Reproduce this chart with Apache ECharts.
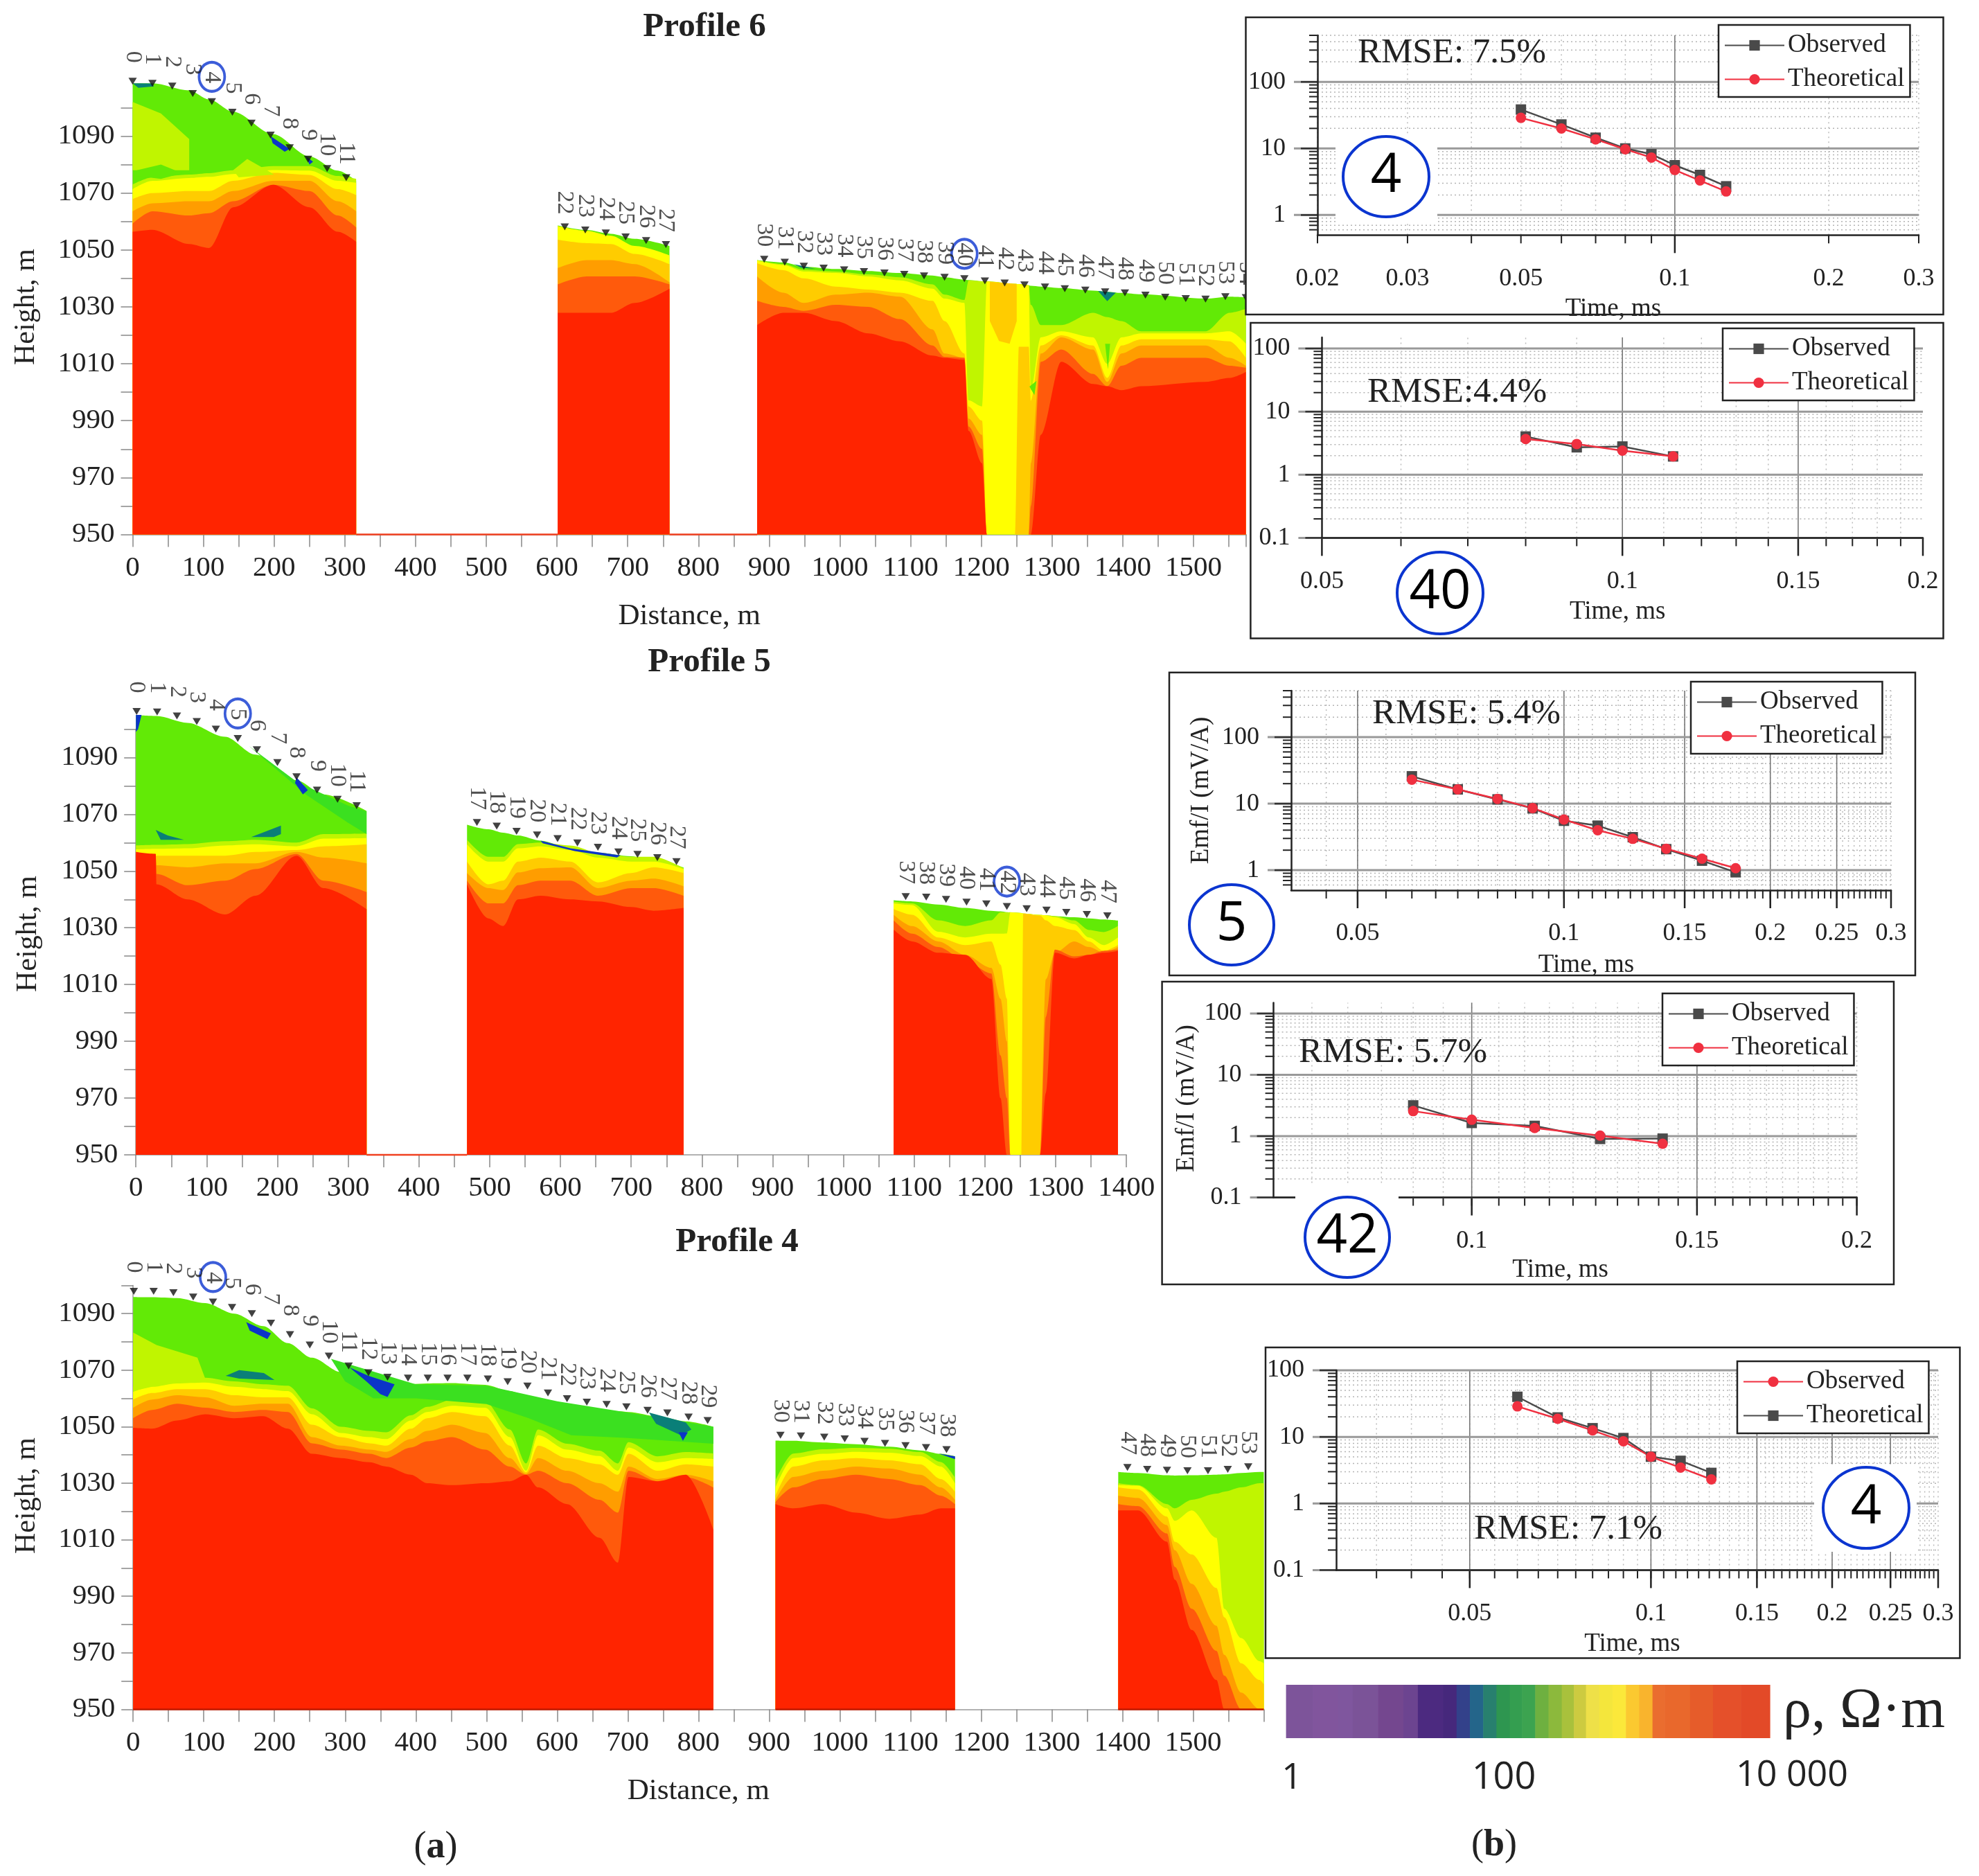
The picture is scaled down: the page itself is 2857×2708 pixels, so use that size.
<!DOCTYPE html>
<html><head><meta charset="utf-8"><style>html,body{margin:0;padding:0;background:#fff}#c{width:2857px;height:2708px}</style>
<script src="https://cdn.jsdelivr.net/npm/echarts@6/dist/echarts.min.js"></script></head><body><div id="c"></div>
<script>
// ---------- Station data ----------
const p6StNo=[0,1,2,3,4,5,6,7,8,9,10,11,22,23,24,25,26,27,30,31,32,33,34,35,36,37,38,39,40,41,42,43,44,45,46,47,48,49,50,51,52,53,54];
const p6StX=[0,28,56,85,112,141,168,195,222,248,275,302,611,640,669,697,726,754,893,922,949,977,1006,1034,1063,1091,1119,1148,1176,1205,1233,1261,1290,1318,1347,1375,1403,1432,1460,1489,1517,1545,1574];
const p6StH=[1109.3,1108.6,1107.6,1105,1102.1,1098.4,1094.6,1090.4,1085.9,1081.9,1078.6,1075.4,1058.1,1057,1056,1054.6,1053.3,1051.9,1046.7,1045.7,1044.3,1043.6,1043,1042.4,1041.9,1041.4,1040.9,1040.4,1039.9,1039.1,1038.4,1037.7,1037,1036.4,1035.9,1035.3,1034.9,1034.1,1033.4,1032.9,1032.7,1033.6,1033.3];
const p5StNo=[0,1,2,3,4,5,6,7,8,9,10,11,17,18,19,20,21,22,23,24,25,26,27,37,38,39,40,41,42,43,44,45,46,47];
const p5StX=[1,30,58,86,113,144,171,200,227,256,285,312,482,510,538,567,596,624,653,682,709,737,764,1088,1117,1145,1174,1202,1231,1259,1287,1315,1344,1373];
const p5StH=[1106.2,1106,1104.6,1102.7,1100,1096.7,1092.7,1088.2,1083.2,1078.5,1075.3,1073,1067.1,1065.8,1064,1062.7,1061.4,1059.9,1058.4,1056.7,1055.9,1054.7,1053.3,1041,1040.8,1040,1039,1038.4,1037.5,1036.7,1036.2,1035.4,1034.7,1034.2];
const p4StNo=[0,1,2,3,4,5,6,7,8,9,10,11,12,13,14,15,16,17,18,19,20,21,22,23,24,25,26,27,28,29,30,31,32,33,34,35,36,37,38,47,48,49,50,51,52,53];
const p4StX=[1,29,57,85,113,140,168,195,222,250,277,305,333,360,389,417,445,473,502,530,558,587,614,642,670,698,728,756,786,813,916,945,978,1007,1035,1064,1093,1122,1151,1407,1435,1463,1492,1521,1549,1578];
const p4StH=[1097.9,1097.9,1097.4,1095.9,1094.1,1092.2,1090,1086.6,1082.6,1078.9,1075,1071.5,1069.1,1067.5,1067.2,1067.2,1067.2,1067.2,1066.9,1065.9,1064.4,1061.9,1059.9,1058.7,1057.9,1057,1055.8,1054.9,1053.4,1052.2,1047,1046.7,1046.3,1045.7,1044.8,1044.1,1043.3,1042.6,1041.9,1035.6,1034.9,1034.6,1034.4,1034.4,1034.9,1035.8];
const p6Marked=[4,40], p5Marked=[5,42], p4Marked=[4];
// ---------- Profile 6 sections ----------
const p6aX=[0,28,80,108,142,199,250,290,316];
const p6aGreen=[1108.6,1108.6,1106.1,1102.9,1098.6,1090.7,1082.9,1077.9,1074.3];
const p6aLime=[1073,1075.5,1076.5,1077,1078,1079.5,1079.5,1076,1075];
const p6aYellow=[1071.4,1074.3,1075.3,1075.7,1076.7,1078.1,1077.9,1074.3,1073.6];
const p6aAmber=[1067.9,1070,1070.7,1070.7,1074.3,1077.1,1076.4,1071.4,1069.3];
const p6aOrange=[1063.6,1066.4,1067.1,1067.1,1070.7,1074.3,1074.3,1067.1,1063.6];
const p6aDark=[1059.3,1063.6,1062.1,1062.9,1067.1,1072.9,1070.7,1062.1,1057.9];
const p6aRed=[1056.4,1057.1,1052.1,1050.7,1065,1072.9,1065,1056.4,1052.9];
const p6bX=[601,642,676,710,759];
const p6bGreen=[1058.6,1057,1055.7,1053.9,1051.4];
const p6bYellow=[1058.4,1056.7,1055,1051.4,1048.1];
const p6bAmber=[1053.6,1052.4,1052.1,1048.6,1045];
const p6bOrange=[1043.6,1046.4,1046.4,1045,1038.6];
const p6bDark=[1037.9,1040.7,1040.7,1040.7,1037.9];
const p6bRed=[1027.9,1027.9,1027.9,1031.4,1036.4];
const p6cX=[883,920,949,994,1040,1085,1131,1148,1176,1182,1201,1208,1248,1253,1267,1270,1284,1313,1358,1378,1398,1426,1517,1551,1574];
const p6cGreen=[1046.4,1045.6,1044.1,1043.3,1042.6,1041.9,1041,1040.4,1039.6,1039.4,1039,1038.9,1038.1,1038,1037.6,1037.4,1037.1,1036.6,1035.7,1035.3,1034.9,1034.4,1032.9,1033.6,1033.4];
const p6cLime=[1046.4,1045,1043,1042.4,1041.4,1040.4,1037.9,1034.3,1032.4,1039.3,1039,1039,1038.1,1038,1037.6,1030.7,1023.6,1023.6,1027.9,1026.4,1025,1021.4,1021.4,1027.9,1029.3];
const p6cYellow=[1046.3,1044.7,1042.4,1041.9,1040.7,1039.3,1036.4,1032.9,1031.4,997.1,995,1038.9,1038.1,1038,1037.6,1000.7,1019.3,1021.4,1019.3,1010,1019.3,1020.7,1020.7,1021.4,1017.1];
const p6cAmber=[1045.3,1042.9,1040,1037.1,1036.1,1035,1032.1,1025,1013.6,995,990,950,950,1016,1016,997,1016.4,1020,1016.4,1005,1016.4,1018.6,1018.6,1017.9,1012.1];
const p6cOrange=[1040.7,1035,1031.4,1034.3,1035,1033.6,1022.1,1013.6,1012.1,990.7,985,950,950,950,950,975,1013.6,1019.3,1015,1003.6,1013.6,1016.4,1016.4,1012.1,1009.3];
const p6cDark=[1032.1,1030,1028.6,1030.7,1030,1025.7,1016.4,1012.4,1012.1,987.9,980,950,950,950,950,960,1010.7,1015,1006.4,1002.1,1009.3,1012.1,1012.1,1009.3,1008.6];
const p6cRed=[1023.6,1027.9,1027.9,1025,1020.7,1017.9,1012.9,1012.1,1011.4,986.4,975,950,950,950,950,950,985,1010.7,1002.9,1002.1,1000.7,1002.1,1003.6,1005,1007.1];
const p6Lime1=[[0,1102],[40,1098],[80,1089],[80,1078],[0,1078]];
const p6Lime2=[[142,1078],[162,1082],[190,1078],[200,1076.5],[150,1075.5]];
const p6Lime3=[[6,1078],[40,1080],[70,1077],[40,1075],[6,1076]];
const p6Blue1=[[195,1090],[222,1085.5],[215,1084.5],[198,1087.5]];
const p6Blue2=[[245,1083],[255,1081],[250,1080]];
const p6Teal1=[[0,1108.6],[28,1108.5],[30,1107.5],[8,1107]];
const p6Teal2=[[935,1045],[965,1043.4],[945,1043.8]];
const p6Teal3=[[1365,1035.6],[1390,1035],[1378,1032]];
const p6AmberCh=[[1212,1038.8],[1250,1038],[1250,1025],[1240,1017],[1225,1018],[1212,1025]];
const p6GreenDot=[[1268,1002],[1278,1004],[1275,999]];
const p6GreenNotch=[[1375,1017],[1382,1017],[1379,1008]];
const p6Base=[[316,950],[601,950]], p6Base2=[[759,950],[883,950]];
// ---------- Profile 5 sections ----------
const p5aX=[0,28,29,73,126,169,227,265,326];
const p5aGreen=[1104.9,1104.6,1104.6,1102.2,1097.3,1091,1082,1077,1071.2];
const p5aLime=[1059,1059.2,1059.2,1059.5,1060.5,1061,1060,1063,1063.2];
const p5aYellow=[1057.6,1057.8,1057.8,1058,1059,1059.4,1058.7,1061.4,1061.6];
const p5aAmber=[1056.7,1055.4,1055.4,1055.4,1055.4,1056.7,1057.4,1058.7,1059.4];
const p5aOrange=[1056,1056,1052,1051.3,1052.7,1052.7,1056.7,1054.7,1052.7];
const p5aDark=[1056,1056,1049,1045,1046.6,1050.7,1056,1046.6,1042.6];
const p5aRed=[1056.7,1056,1045.3,1040,1034.7,1041.3,1055.4,1044,1036.6];
const p5bX=[468,498,519,540,572,614,653,700,732,774];
const p5bGreen=[1066.3,1064.7,1063.5,1062.5,1060.7,1058,1056.4,1055.2,1053.7,1051.3];
const p5bLime=[1061,1055,1055,1059.5,1060,1059,1056.5,1055,1055,1051];
const p5bYellow=[1059.4,1053.3,1053.3,1058,1058.7,1057.4,1054.7,1053.3,1053.3,1050.7];
const p5bAmber=[1053.3,1045.3,1046.6,1053.3,1054.7,1053.3,1046,1049.3,1051.3,1049.3];
const p5bOrange=[1049.3,1044,1043.3,1049.5,1051,1051.3,1044,1046.6,1047.3,1044.6];
const p5bDark=[1046.6,1038.6,1038.6,1045,1046.6,1046.6,1041.3,1044,1044,1041.3];
const p5bRed=[1045.3,1033.3,1030.6,1040,1041.3,1040,1039.3,1037.3,1036,1037];
const p5cX=[1071,1097,1134,1172,1209,1222,1231,1236,1252,1254,1278,1286,1299,1326,1347,1368,1388];
const p5cGreen=[1039.7,1039.3,1038.2,1037,1036,1035.8,1035.5,1035.4,1035.2,1035,1034.5,1034.4,1034.1,1033.7,1033.3,1032.9,1032.5];
const p5cLime=[1039.2,1038.6,1032.6,1030.6,1032.6,1035.4,1035.4,1035.5,1035.2,1035,1034.5,1034.4,1034.1,1032.6,1029.2,1028.5,1030.6];
const p5cYellow=[1038.6,1038,1028.6,1026.6,1027.9,1027.9,1028,1035.4,1035.2,1035,1034.5,1034.4,1033.7,1031.3,1026.6,1023.9,1026.6];
const p5cAmber=[1036.6,1034.6,1026.6,1023.9,1025.2,1017,1005,950,950,1035,1034.3,1032.6,1030.6,1029.2,1025.2,1021.9,1023.9];
const p5cOrange=[1034.6,1030.6,1025.2,1020.5,1015.9,1005,990,950,950,950,950,1011.8,1021.2,1025.2,1023.2,1021.2,1023.2];
const p5cDark=[1032.6,1027.9,1023.2,1018.5,1013.9,985,970,950,950,950,950,998.5,1022.3,1019.9,1020.5,1021.9,1022.3];
const p5cRed=[1029.3,1025.2,1021.2,1020.5,1012,970,950,950,950,950,950,971.7,1021.2,1019.2,1020.5,1021.2,1021.9];
const p5Blue1=[[0,1105],[8,1105],[3,1100],[0,1099]];
const p5Blue2=[[227,1083],[243,1078.5],[236,1077],[225,1081]];
const p5Blue3=[[572,1060.7],[614,1058],[685,1055.5],[680,1054.8],[620,1057],[575,1059.8]];
const p5Teal1=[[28,1064.5],[45,1062.5],[68,1061],[35,1061]];
const p5Teal2=[[163,1062],[205,1066],[205,1063],[195,1062]];
const p5Edge=[[160,1094],[227,1081.5],[300,1073],[326,1071],[326,1063],[300,1067],[240,1077]];
const p5Base=[[326,950],[468,950]];
// ---------- Profile 4 sections ----------
const p4aX=[0,27,62,102,143,184,219,253,294,335,358,393,416,451,498,533,556,573,614,660,686,701,742,782,821];
const p4aGreen=[1095.9,1095.8,1095.5,1093.7,1090,1085.6,1079.6,1074.4,1069.3,1065.6,1064.8,1065.1,1065.3,1065.4,1064.8,1062.6,1061.1,1059.6,1057.4,1055.9,1055.5,1055.2,1053.7,1051.9,1050];
const p4aLime=[1064,1066,1067,1067.3,1066,1065,1064.5,1056.5,1050,1048.5,1048,1054,1057,1059.5,1059,1049,1037,1049,1044,1041.5,1037,1044.5,1039.5,1041,1040.5];
const p4aYellow=[1062.3,1064.1,1065.3,1065.6,1064.1,1063.3,1062.6,1054.4,1047.8,1046.3,1045.6,1052.2,1055.2,1057.4,1056.7,1046.3,1034.4,1047,1041.9,1039.6,1034.4,1042.6,1037.4,1038.9,1038.6];
const p4aAmber=[1059.6,1061.9,1063.3,1063.3,1061.1,1060.4,1060.4,1050.7,1046.3,1044.1,1043.3,1049.3,1053,1055.2,1053.7,1043.3,1033.9,1043.3,1038.9,1036.7,1033,1040.4,1034.4,1036.7,1035.9];
const p4aOrange=[1056.7,1059.6,1061.1,1060.4,1057.4,1058.1,1058.1,1046.3,1043.3,1041.9,1041.1,1045.6,1048.5,1050.7,1047.8,1038.9,1033.3,1038.9,1034.4,1030,1027,1035.9,1031.5,1033,1030.7];
const p4aDark=[1053,1055.9,1058.1,1056.7,1055.2,1055.9,1055.2,1044.1,1041.9,1040.4,1038.9,1042.6,1044.8,1046.3,1041.9,1035.9,1033,1034.4,1030,1024.1,1019.6,1034.4,1030.7,1032.2,1028.5];
const p4aRed=[1049.6,1049.3,1052.2,1054.4,1053,1053.7,1049.3,1040.4,1038.9,1037.4,1035.9,1033,1030,1029.3,1030,1030.7,1033,1028.5,1022.6,1010.7,1001.9,1032.2,1030.7,1033,1013.7];
const p4bX=[909,934,976,1023,1070,1114,1143,1163];
const p4bGreen=[1045.1,1045,1044.4,1043.8,1042.9,1041.6,1040.4,1039.5];
const p4bLime=[1031,1040.5,1042,1042.5,1042.2,1041,1037.5,1032];
const p4bYellow=[1028.5,1038.9,1040.4,1041.1,1040.8,1039.6,1035.9,1030];
const p4bAmber=[1025.6,1035.9,1038.1,1038.9,1038.1,1036.7,1031.5,1027];
const p4bOrange=[1024.1,1032.2,1034.4,1035.9,1035.2,1033,1028.5,1024.1];
const p4bDark=[1023.3,1028.5,1031.5,1033,1031.5,1029.3,1025.6,1022.6];
const p4bRed=[1022.6,1021.1,1022.6,1019.6,1017.4,1018.9,1021.1,1021.1];
const p4cX=[1394,1422,1463,1474,1498,1533,1544,1568,1594,1600];
const p4cGreen=[1034,1033.6,1032.8,1032.7,1032.8,1033,1033.1,1033.6,1034,1034];
const p4cLime=[1030,1029.3,1022.6,1021.1,1024.1,1026.3,1027,1028.5,1030,1030];
const p4cYellow=[1029.3,1029.1,1021.1,1016.7,1020.4,1010.7,985.6,975.2,967,966.3];
const p4cAmber=[1028.5,1027.8,1018.2,1009.3,1004.8,992.9,982.6,966.3,960.4,958.9];
const p4cOrange=[1025.6,1024.8,1015.2,1006.3,994.4,979.6,969.3,955.9,950,950];
const p4cDark=[1022.6,1021.9,1012.2,1000.4,985.6,970.7,961.9,950,950,950];
const p4cRed=[1020.4,1020.4,1009.3,995.9,978.1,960.4,950,950,950,950];
const p4Lime=[[0,1083.3],[33,1078.9],[91,1074.4],[102,1067],[33,1064.5],[0,1062.6]];
const p4DeepGreen=[[280,1074],[400,1065],[500,1064.5],[600,1059],[700,1055],[821,1050],[821,1044],[700,1046],[620,1047],[560,1053],[500,1058],[400,1060],[340,1060],[300,1066]];
const p4Teal1=[[131,1068],[150,1070],[185,1069],[200,1066.5],[150,1067]];
const p4Teal2=[[730,1055],[782,1051.5],[790,1049],[775,1047],[740,1051]];
const p4Blue1=[[160,1087],[195,1083],[190,1081],[165,1084]];
const p4Blue2=[[306,1071],[333,1068],[370,1065],[360,1060.5],[350,1061.5],[330,1066]];
const p4Blue3=[[772,1048],[785,1048],[778,1045]];
const p4Blue4=[[1140,1040.5],[1163,1039.5],[1163,1038.5]];
// ---------- Decay curves ----------
const tA=[.05,.06,.07,.08,.09,.1,.112,.126], obsA=[38.4,22.9,14.5,10,8.2,5.6,4,2.7], theoA=[28.8,19.9,13.7,9.7,7.3,4.75,3.3,2.26];
const tB=[.08,.09,.1,.1124], obsB=[4.03,2.72,2.8,1.95], theoB=[3.68,3.07,2.41,1.95];
const tC=[.06,.07,.08,.09,.1,.112,.126,.141,.159,.178], obsC=[25.8,16.4,11.6,8.5,5.53,4.67,3.13,2.07,1.39,.93], theoC=[23,16.4,11.8,8.6,5.78,3.98,2.96,2.1,1.49,1.07];
const tD=[.09,.1,.112,.126,.141], obsD=[3.17,1.64,1.47,.9,.91], theoD=[2.56,1.85,1.36,1.02,.75];
const tE=[.06,.07,.08,.09,.1,.112,.126], obsE=[28.7,18.7,12.5,8.6,5.04,3.45,2.3], theoE=[40,19.6,13.5,9.6,5.04,4.37,2.88];
// ---------- Colour scale ----------
const scaleEdges=[0,.22,.43,.55,.76,.97,1.09,1.30,1.41,1.52,1.63,1.74,1.85,1.95,2.06,2.17,2.28,2.38,2.48,2.59,2.70,2.81,2.92,3.03,3.13,3.34,3.53,3.76,4];
const scaleColors=['#7d549a','#81559d','#7f569e','#7b5398','#74478f','#6c4490','#4c2a80','#46287c','#33418a','#24658a','#28806e','#2e9650','#349e50','#3ca350','#6eb040','#8cb93c','#a9c13c','#cdcb40','#eee048','#f4e63c','#fbe83a','#fbc930','#f9b42d','#ea6d2f','#e9682c','#e65c2a','#e5502a','#e34a28'];
// ---------- Drawing ----------
const SERIF='"Liberation Serif"', SANS='"Open Sans"';
const COL={green:'#62ea06',lime:'#c0f500',yellow:'#ffff00',amber:'#ffcc00',orange:'#ff9d00',dark:'#ff5a0c',red:'#ff2400',blue:'#0b35c8',teal:'#0a7f78',deep:'#3be020'};
const series=[],grid=[],xAxis=[],yAxis=[],legend=[],title=[];
const zip=(x,y)=>x.map((v,i)=>[v,y[i]]);
function layer(g,x,y,c){series.push({type:'line',xAxisIndex:g,yAxisIndex:g,data:zip(x,y),showSymbol:false,symbol:'none',clip:false,silent:true,z:1,smooth:.3,smoothMonotone:'x',lineStyle:{width:0},areaStyle:{color:c,opacity:1,origin:'start'}});}
function patch(g,pts,c){series.push({type:'custom',coordinateSystem:'cartesian2d',xAxisIndex:g,yAxisIndex:g,data:pts,encode:{x:0,y:1},clip:false,silent:true,z:1,
 renderItem(p,api){if(p.dataIndex!==0)return null;return {type:'polygon',shape:{points:pts.map(q=>api.coord(q))},style:{fill:c}};}});}
function base(g,pts,c){series.push({type:'line',xAxisIndex:g,yAxisIndex:g,data:pts,symbol:'none',clip:false,silent:true,z:1,lineStyle:{color:c,width:2.5}});}
function stations(g,x,h,no,marked){
 series.push({type:'scatter',xAxisIndex:g,yAxisIndex:g,z:1,silent:true,clip:false,symbol:'triangle',symbolRotate:180,symbolSize:[12,10],itemStyle:{color:'#111'},data:x.map((v,i)=>({value:[v,h[i]],name:String(no[i])})),
  label:{show:true,formatter:p=>p.name,position:'top',distance:30,rotate:-90,align:'center',verticalAlign:'middle',color:'#222',fontFamily:SERIF,fontSize:34}});
 const mk=x.map((v,i)=>[v,h[i],no[i]]).filter(r=>marked.includes(r[2]));
 series.push({type:'scatter',xAxisIndex:g,yAxisIndex:g,z:1,silent:true,clip:false,symbol:'circle',symbolSize:[37,42],symbolOffset:[0,-36],itemStyle:{color:'rgba(0,0,0,0)',borderColor:'#0b35d0',borderWidth:4},data:mk.map(r=>[r[0],r[1]])});
}
function profileAxes(left,y950,pxPerM,width,xMax,xLabelMax,xName){
 const g=grid.length, h=pxPerM*150;
 grid.push({left,top:y950-h,width,height:h});
 xAxis.push({gridIndex:g,type:'value',min:0,max:xMax,interval:50,z:0,splitLine:{show:false},
  axisLine:{show:true,onZero:false,lineStyle:{color:'#999',width:1.5}},axisTick:{show:true,length:18,lineStyle:{color:'#888',width:1.5}},
  axisLabel:{margin:28,color:'#222',fontFamily:SERIF,fontSize:41,showMaxLabel:true,formatter:v=>(v%100===0&&v<=xLabelMax)?String(v):''},
  name:xName,nameLocation:'middle',nameGap:97,nameTextStyle:{color:'#222',fontFamily:SERIF,fontSize:43}});
 yAxis.push({gridIndex:g,type:'value',min:950,max:1100,interval:10,z:0,splitLine:{show:false},
  axisLine:{show:true,lineStyle:{color:'#999',width:1.5}},axisTick:{show:true,length:17,lineStyle:{color:'#888',width:1.5}},
  axisLabel:{margin:26,color:'#222',fontFamily:SERIF,fontSize:41,formatter:v=>((v-950)%20===0&&v<1100)?String(v):''}});
 return g;
}
function sect(g,x,arrs){arrs.forEach(a=>layer(g,x,a[0],COL[a[1]]));}
const P6=profileAxes(191.5,771.5,4.107,1607.5,1574.4,1500,'Distance, m');
sect(P6,p6aX,[[p6aGreen,'green'],[p6aLime,'lime'],[p6aYellow,'yellow'],[p6aAmber,'amber'],[p6aOrange,'orange'],[p6aDark,'dark'],[p6aRed,'red']]);
sect(P6,p6bX,[[p6bGreen,'green'],[p6bYellow,'yellow'],[p6bAmber,'amber'],[p6bOrange,'orange'],[p6bDark,'dark'],[p6bRed,'red']]);
sect(P6,p6cX,[[p6cGreen,'green'],[p6cLime,'lime'],[p6cYellow,'yellow'],[p6cAmber,'amber'],[p6cOrange,'orange'],[p6cDark,'dark'],[p6cRed,'red']]);
[[p6Lime1,'lime'],[p6Lime2,'lime'],[p6Lime3,'green'],[p6Blue1,'blue'],[p6Blue2,'blue'],[p6Teal1,'teal'],[p6Teal2,'teal'],[p6Teal3,'teal'],[p6AmberCh,'amber'],[p6GreenDot,'green'],[p6GreenNotch,'green']].forEach(a=>patch(P6,a[0],COL[a[1]]));
base(P6,p6Base,'#f04020');base(P6,p6Base2,'#f04020');
stations(P6,p6StX,p6StH,p6StNo,p6Marked);
const P5=profileAxes(196.2,1667,4.097,1430,1400,1400,'');
sect(P5,p5aX,[[p5aGreen,'green'],[p5aLime,'lime'],[p5aYellow,'yellow'],[p5aAmber,'amber'],[p5aOrange,'orange'],[p5aDark,'dark'],[p5aRed,'red']]);
sect(P5,p5bX,[[p5bGreen,'green'],[p5bLime,'lime'],[p5bYellow,'yellow'],[p5bAmber,'amber'],[p5bOrange,'orange'],[p5bDark,'dark'],[p5bRed,'red']]);
sect(P5,p5cX,[[p5cGreen,'green'],[p5cLime,'lime'],[p5cYellow,'yellow'],[p5cAmber,'amber'],[p5cOrange,'orange'],[p5cDark,'dark'],[p5cRed,'red']]);
[[p5Edge,'deep'],[p5Blue1,'blue'],[p5Blue2,'blue'],[p5Blue3,'blue'],[p5Teal1,'teal'],[p5Teal2,'teal']].forEach(a=>patch(P5,a[0],COL[a[1]]));
base(P5,p5Base,'#f04020');
stations(P5,p5StX,p5StH,p5StNo,p5Marked);
const P4=profileAxes(192.2,2467.4,4.08,1632.3,1600,1500,'Distance, m');
sect(P4,p4aX,[[p4aGreen,'green'],[p4aLime,'lime'],[p4aYellow,'yellow'],[p4aAmber,'amber'],[p4aOrange,'orange'],[p4aDark,'dark'],[p4aRed,'red']]);
sect(P4,p4bX,[[p4bGreen,'green'],[p4bLime,'lime'],[p4bYellow,'yellow'],[p4bAmber,'amber'],[p4bOrange,'orange'],[p4bDark,'dark'],[p4bRed,'red']]);
sect(P4,p4cX,[[p4cGreen,'green'],[p4cLime,'lime'],[p4cYellow,'yellow'],[p4cAmber,'amber'],[p4cOrange,'orange'],[p4cDark,'dark'],[p4cRed,'red']]);
[[p4Lime,'lime'],[p4DeepGreen,'deep'],[p4Teal1,'teal'],[p4Teal2,'teal'],[p4Blue1,'blue'],[p4Blue2,'blue'],[p4Blue3,'blue'],[p4Blue4,'blue']].forEach(a=>patch(P4,a[0],COL[a[1]]));
base(P4,[[0,950],[821,950]],'#c41a00');base(P4,[[909,950],[1163,950]],'#c41a00');base(P4,[[1394,950],[1600,950]],'#c41a00');
stations(P4,p4StX,p4StH,p4StNo,p4Marked);
// titles
[['Profile 6',1012,36],['Profile 5',1019,953],['Profile 4',1059,1790]].forEach(t=>title.push({text:t[0],left:t[1],top:t[2]-26,textAlign:'center',textStyle:{fontFamily:SERIF,fontWeight:'bold',fontSize:49,color:'#222'}}));
function step(a,b,s){const r=[];for(let v=a;v<=b+1e-9;v+=s)r.push(+v.toFixed(4));return r;}
function yMinors(lo,hi){const r=[];[.1,1,10,100].forEach(d=>[2,3,4,5,6,7,8,9].forEach(m=>{const v=+(m*d).toFixed(3);if(v>lo&&v<=hi)r.push(v);}));return r;}
function plot(o){
 const g=grid.length;
 grid.push({left:o.L,top:o.T,width:o.R-o.L,height:o.B-o.T,z:5});
 xAxis.push({gridIndex:g,type:'log',logBase:10,min:o.x[0],max:o.x[1],z:5,splitLine:{show:false},axisTick:{show:false},minorTick:{show:false},
  axisLine:{show:true,onZero:false,lineStyle:{color:'#222',width:2.5}},
  axisLabel:{show:true,customValues:o.xLabels,formatter:v=>String(+(+v).toFixed(3)),margin:o.xMargin||45,color:'#222',fontFamily:SERIF,fontSize:36},
  name:'Time, ms',nameLocation:'middle',nameGap:o.nameGap,nameTextStyle:{color:'#222',fontFamily:SERIF,fontSize:37,padding:[0,14,0,0]}});
 yAxis.push({gridIndex:g,type:'log',logBase:10,min:o.y[0],max:o.y[1],z:5,splitLine:{show:false},axisTick:{show:false},minorTick:{show:false},
  axisLine:{show:true,lineStyle:{color:'#222',width:2.5}},
  axisLabel:{show:true,customValues:o.yMajor,formatter:v=>String(+(+v).toFixed(3)),margin:46,color:'#222',fontFamily:SERIF,fontSize:36}});
 const lines=[];
 const [x0,x1]=o.x,[y0,y1]=o.y;
 const mins=yMinors(y0,y1);
 mins.forEach(v=>{lines.push({a:[x0,v],b:[x1,v],c:'#b4b4b4',w:1.5,dash:[2,4]});lines.push({a:[x0,v],b:[x0,v],ox:-12,c:'#222',w:2});});
 o.xMinor.forEach(v=>{lines.push({a:[v,y0],b:[v,y1],c:'#bcbcbc',w:1.5,dash:[2,5]});lines.push({a:[v,y0],b:[v,y0],oy:12,c:'#222',w:2});});
 o.vLines.forEach(v=>lines.push({a:[v,y0],b:[v,y1],c:'#777',w:1.6}));
 o.xLong.forEach(v=>lines.push({a:[v,y0],b:[v,y0],oy:26,c:'#222',w:2.5}));
 o.yMajor.forEach(v=>{lines.push({a:[x0,v],b:[x1,v],ox:-34,c:'#999',w:3});lines.push({a:[x0,v],b:[x0,v],ox:-24,c:'#333',w:2.5});});
 series.push({type:'custom',coordinateSystem:'cartesian2d',xAxisIndex:g,yAxisIndex:g,z:5,clip:false,silent:true,data:lines.map(l=>l.a),encode:{x:0,y:1},
  renderItem(p,api){const l=lines[p.dataIndex],A=api.coord(l.a),B=api.coord(l.b);
   let s=[A[0]+(l.a[0]===l.b[0]&&l.a[1]===l.b[1]?0:(l.ox||0)),A[1]];let e=[B[0],B[1]];
   if(l.a[0]===l.b[0]&&l.a[1]===l.b[1]){e=[B[0]+(l.ox||0),B[1]+(l.oy||0)];}
   return {type:'line',shape:{x1:s[0],y1:s[1],x2:e[0],y2:e[1]},style:{stroke:l.c,lineWidth:l.w,lineDash:l.dash||null}};}});
 const mkLine=(name,d,col,sym)=>series.push({type:'line',name:name+'#'+o.id,xAxisIndex:g,yAxisIndex:g,z:6,clip:false,silent:true,data:d,symbol:sym,symbolSize:15,lineStyle:{color:col,width:2.5},itemStyle:{color:col}});
 const G='#4a4a4a',Rd='#f03040';
 if(o.swap){mkLine('Theoretical',zip(o.t,o.th),G,'rect');mkLine('Observed',zip(o.t,o.ob),Rd,'circle');}
 else{mkLine('Observed',zip(o.t,o.ob),G,'rect');mkLine('Theoretical',zip(o.t,o.th),Rd,'circle');}
 legend.push({left:o.lg[0],top:o.lg[1],orient:'vertical',z:8,selectedMode:false,backgroundColor:'#fff',borderColor:'#222',borderWidth:2.5,padding:[11,8,7,8],itemGap:12,itemWidth:86,itemHeight:19,
  data:['Observed#'+o.id,'Theoretical#'+o.id],formatter:n=>n.split('#')[0],textStyle:{fontFamily:SERIF,fontSize:37,color:'#222'}});
}
plot({id:'A',L:1902,R:2770,T:51,B:339.3,x:[.02,.3],y:[.5,500],t:tA,ob:obsA,th:theoA,lg:[2481,36],nameGap:88,xLabels:[.02,.03,.05,.1,.2,.3],yMajor:[1,10,100],vLines:[.1],xLong:[.1],xMinor:[.02,.03,.04,.05,.06,.07,.08,.09,.2,.3]});
plot({id:'B',L:1908.4,R:2776,T:487,B:776.4,x:[.05,.2],y:[.1,150],t:tB,ob:obsB,th:theoB,lg:[2487,474],nameGap:88,xLabels:[.05,.1,.15,.2],yMajor:[.1,1,10,100],vLines:[.1,.15],xLong:[.05,.1,.15,.2],xMinor:[.06,.07,.08,.09,.11,.12,.13,.14,.16,.17,.18,.19]});
plot({id:'C',L:1864,R:2730,T:997,B:1285,x:[.04,.3],y:[.5,500],t:tC,ob:obsC,th:theoC,lg:[2441,984],nameGap:90,xLabels:[.05,.1,.15,.2,.25,.3],yMajor:[1,10,100],vLines:[.05,.1,.15,.2,.25],xLong:[.05,.1,.15,.2,.25,.3],xMinor:step(.045,.3,.005)});
plot({id:'D',L:1838.6,R:2680.6,T:1447.4,B:1728.5,x:[.07,.2],y:[.1,150],t:tD,ob:obsD,th:theoD,lg:[2400,1434],nameGap:86,xLabels:[.1,.15,.2],yMajor:[.1,1,10,100],vLines:[.1,.15],xLong:[.1,.15,.2],xMinor:step(.075,.2,.005)});
plot({id:'E',L:1929,R:2798,T:1978,B:2266.4,x:[.03,.3],y:[.1,100],t:tE,ob:obsE,th:theoE,lg:[2508,1965],swap:true,nameGap:88,xLabels:[.05,.1,.15,.2,.25,.3],yMajor:[.1,1,10,100],vLines:[.05,.1,.15,.2,.25],xLong:[.05,.1,.15,.2,.25,.3],xMinor:step(.035,.3,.005)});
// colour scale
const CB=grid.length;
grid.push({left:1856.6,top:2432,width:698.4,height:77});
xAxis.push({gridIndex:CB,type:'value',min:0,max:4,show:false});
yAxis.push({gridIndex:CB,type:'value',min:0,max:1,show:false});
series.push({type:'custom',coordinateSystem:'cartesian2d',xAxisIndex:CB,yAxisIndex:CB,silent:true,clip:false,z:6,data:scaleColors.map((c,i)=>[scaleEdges[i],scaleEdges[i+1]]),encode:{x:[0,1]},
 renderItem(p,api){const a=api.coord([api.value(0),0]),b=api.coord([api.value(1),1]);return {type:'rect',shape:{x:a[0],y:b[1],width:b[0]-a[0]+.6,height:a[1]-b[1]},style:{fill:scaleColors[p.dataIndex]}};}});
// overlay
const gr=[];
function box(x0,y0,x1,y1){gr.push({type:'rect',z:2,shape:{x:x0,y:y0,width:x1-x0,height:y1-y0},style:{fill:'#fff',stroke:'#222',lineWidth:2.5}});}
function wipe(x0,y0,x1,y1){gr.push({type:'rect',z:9,shape:{x:x0,y:y0,width:x1-x0,height:y1-y0},style:{fill:'#fff'}});}
function txt(t,x,y,size,font,o={}){gr.push({type:'text',z:10,x,y,rotation:o.rot||0,style:{text:t,fill:o.c||'#222',font:(o.w?o.w+' ':'')+size+'px '+font,align:o.a||'center',verticalAlign:'middle',rich:o.rich}});}
function ring(t,x,y,rx,ry){gr.push({type:'ellipse',z:10,shape:{cx:x,cy:y,rx,ry},style:{fill:'#fff',stroke:'#0b35d0',lineWidth:4}});txt(t,x,y,78,SANS,{c:'#000'});}
box(1798.5,25,2805.5,454);box(1805.4,466,2805.5,921.5);box(1688,970.7,2765,1408);box(1677.6,1417,2734,1854);box(1827,1945,2829.4,2393.5);
wipe(1928,195,2075,322);wipe(1870,1712,2019,1750);wipe(2619,2113.6,2767,2240);
ring('4',2001,255,62,58);ring('40',2079,856,62,59);ring('5',1778,1335,61,58);ring('42',1945,1786,61,58);ring('4',2694,2176.6,62,58.5);
txt('RMSE: 7.5%',1960,77,51,SERIF,{a:'left'});txt('RMSE:4.4%',1974,566.5,51,SERIF,{a:'left'});txt('RMSE: 5.4%',1981,1031,51,SERIF,{a:'left'});txt('RMSE: 5.7%',1875,1520,51,SERIF,{a:'left'});txt('RMSE: 7.1%',2128,2208,51,SERIF,{a:'left'});
txt('Emf/I (mV/A)',1734,1141,37,SERIF,{rot:Math.PI/2});txt('Emf/I (mV/A)',1713,1585.6,37,SERIF,{rot:Math.PI/2});
txt('Height, m',38,443,42,SERIF,{rot:Math.PI/2});txt('Height, m',41,1348,42,SERIF,{rot:Math.PI/2});txt('Height, m',39,2159,42,SERIF,{rot:Math.PI/2});
txt('ρ, Ω·m',2574,2471,82,SERIF,{a:'left'});txt('1',1865,2567,52,SANS);txt('100',2171,2567,54,SANS);txt('10 000',2587,2563,52,SANS);
const ab={p:{font:'54px '+SERIF,fill:'#222'},b:{font:'bold 54px '+SERIF,fill:'#222'}};
txt('{p|(}{b|a}{p|)}',629,2667,54,SERIF,{rich:ab});txt('{p|(}{b|b}{p|)}',2157,2664,54,SERIF,{rich:ab});
const chart=echarts.init(document.getElementById('c'),null,{width:2857,height:2708});
chart.setOption({animation:false,backgroundColor:'#fff',title,grid,xAxis,yAxis,legend,series,graphic:{elements:gr}});
</script></body></html>
